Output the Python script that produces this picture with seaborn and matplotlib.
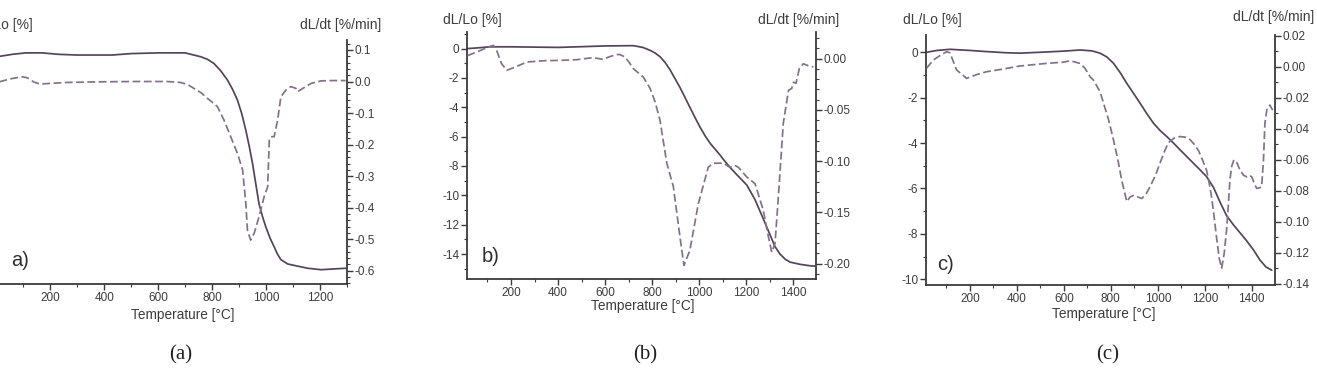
import numpy as np
import pandas as pd
import matplotlib
matplotlib.use("Agg")
import matplotlib.pyplot as plt
from matplotlib.ticker import MultipleLocator, FormatStrFormatter
import seaborn as sns

# ---------------- data ----------------
# panel a
a_T_len = [10, 60, 110, 170, 230, 300, 430, 500, 600, 700, 758, 783, 807, 832, 857, 876, 894, 910,
           925, 938, 950, 962, 974, 987, 999, 1015, 1030, 1042, 1055, 1080, 1104, 1154, 1204, 1250, 1295]
a_len = [-0.2, -0.05, 0.05, 0.05, -0.05, -0.1, -0.1, 0.0, 0.05, 0.05, -0.22, -0.4, -0.69, -1.2, -1.85,
         -2.5, -3.25, -4.2, -5.35, -6.5, -7.68, -9.1, -10.5, -11.4, -12.1, -12.9, -13.5, -14.0, -14.4,
         -14.7, -14.8, -15.0, -15.1, -15.05, -15.0]
a_T_rate = [12, 50, 95, 115, 140, 163, 200, 262, 386, 510, 634, 683, 710, 733, 760, 782, 800, 820, 844,
            869, 894, 913, 925, 931, 943, 956, 974, 993, 1006, 1012, 1018, 1030, 1043, 1055, 1074, 1092,
            1111, 1117, 1136, 1167, 1204, 1250, 1295]
a_rate = [-0.001, 0.008, 0.015, 0.012, -0.002, -0.008, -0.006, -0.003, -0.001, 0.0, 0.0, -0.003, -0.010,
          -0.022, -0.036, -0.053, -0.065, -0.080, -0.122, -0.175, -0.228, -0.280, -0.386, -0.471, -0.503,
          -0.481, -0.429, -0.365, -0.334, -0.186, -0.175, -0.175, -0.122, -0.048, -0.027, -0.016, -0.022,
          -0.032, -0.022, -0.006, 0.002, 0.003, 0.003]

# panel b
b_T_len = [15, 60, 110, 200, 400, 600, 720, 760, 791, 812, 833, 855, 876, 897, 918, 940, 960, 982, 1003,
           1025, 1046, 1067, 1088, 1110, 1131, 1160, 1202, 1237, 1272, 1301, 1322, 1343, 1365, 1386, 1428,
           1471, 1490]
b_len = [0.0, 0.05, 0.12, 0.12, 0.08, 0.18, 0.2, 0.08, -0.12, -0.3, -0.55, -0.95, -1.45, -2.05, -2.65,
         -3.35, -4.0, -4.7, -5.35, -5.95, -6.45, -6.85, -7.25, -7.7, -8.1, -8.6, -9.3, -10.3, -11.6,
         -12.7, -13.5, -14.0, -14.35, -14.55, -14.7, -14.8, -14.82]
b_T_rate = [15, 60, 100, 125, 139, 160, 182, 220, 267, 340, 408, 480, 549, 591, 620, 649, 663, 684, 700,
            720, 762, 791, 812, 833, 862, 890, 918, 935, 960, 996, 1038, 1059, 1102, 1130, 1150, 1166, 1202,
            1237, 1272, 1294, 1308, 1322, 1336, 1357, 1379, 1393, 1400, 1411, 1425, 1442, 1470, 1485]
b_rate = [0.003, 0.007, 0.011, 0.013, 0.008, -0.005, -0.0114, -0.008, -0.0033, -0.002, -0.0017, -0.001,
          0.001, -0.0007, 0.002, 0.004, 0.004, 0.0016, -0.003, -0.0098, -0.018, -0.029, -0.042, -0.060,
          -0.102, -0.125, -0.174, -0.2017, -0.187, -0.1415, -0.106, -0.102, -0.102, -0.106, -0.104, -0.106,
          -0.1155, -0.122, -0.148, -0.174, -0.189, -0.180, -0.135, -0.063, -0.031, -0.029, -0.023, -0.024,
          -0.0098, -0.005, -0.0075, -0.008]

# panel c
c_T_len = [15, 60, 115, 200, 271, 350, 413, 500, 600, 669, 720, 754, 782, 811, 840, 868, 896, 925, 953,
           982, 1010, 1039, 1067, 1095, 1124, 1152, 1180, 1208, 1237, 1265, 1293, 1322, 1350, 1378, 1407,
           1435, 1460, 1485]
c_len = [0.0, 0.08, 0.13, 0.08, 0.03, -0.02, -0.04, 0.0, 0.05, 0.1, 0.06, -0.04, -0.2, -0.48, -0.9,
         -1.37, -1.8, -2.25, -2.7, -3.13, -3.45, -3.72, -4.0, -4.3, -4.6, -4.89, -5.18, -5.48, -5.95,
         -6.6, -7.2, -7.6, -7.95, -8.3, -8.7, -9.15, -9.45, -9.6]
c_T_rate = [15, 44, 80, 101, 115, 143, 186, 230, 271, 340, 413, 527, 600, 626, 669, 690, 712, 726, 754,
            769, 790, 811, 830, 846, 868, 882, 896, 915, 932, 950, 967, 990, 1009, 1030, 1045, 1070, 1095,
            1120, 1137, 1155, 1173, 1190, 1208, 1220, 1229, 1240, 1250, 1262, 1272, 1283, 1293, 1300, 1307,
            1315, 1324, 1337, 1350, 1365, 1378, 1390, 1400, 1410, 1421, 1435, 1442, 1450, 1456, 1465,
            1477, 1489]
c_rate = [-0.001, 0.0043, 0.008, 0.0097, 0.009, -0.002, -0.0075, -0.005, -0.0032, -0.0015, 0.0005,
          0.0022, 0.003, 0.0039, 0.0022, -0.001, -0.0065, -0.0086, -0.016, -0.0236, -0.034, -0.047, -0.06,
          -0.073, -0.087, -0.084, -0.083, -0.084, -0.085, -0.082, -0.0774, -0.07, -0.0623, -0.054, -0.049,
          -0.046, -0.045, -0.0455, -0.047, -0.05, -0.054, -0.06, -0.067, -0.076, -0.084, -0.097, -0.11,
          -0.124, -0.130, -0.12, -0.105, -0.09, -0.073, -0.064, -0.060, -0.062, -0.0667, -0.070, -0.071,
          -0.070, -0.071, -0.075, -0.0785, -0.078, -0.0774, -0.06, -0.0365, -0.027, -0.0247, -0.028]

x_ticks = [200, 400, 600, 800, 1000, 1200, 1400]
x_label = "Temperature [°C]"
left_label = "dL/Lo [%]"
right_label = "dL/dt [%/min]"
panel_tags = ["a)", "b)", "c)"]
captions = ["(a)", "(b)", "(c)"]

# ---------------- style ----------------
sns.set_style("white")
plt.rcParams["font.family"] = ["Liberation Sans", "DejaVu Sans"]

W, H = 1317, 372
fig = plt.figure(figsize=(W / 100, H / 100), dpi=100)


def rect(l, r, t, b):
    return [l / W, 1 - b / H, (r - l) / W, (b - t) / H]


SOLID = "#55435d"
DASH = "#85708c"
SPINE = "#3a3a3a"
TXT = "#3c3c3c"

panels = [
    dict(rect=rect(-3.8, 347, 40, 284), xlim=(0, 1300), ylim=(-16.1, 0.95), y2lim=(-0.642, 0.1316),
         lmaj=2, lmin=1, rmaj=0.1, rmin=0.02, rfmt="%.1f", lfmt="%d", hide_left=True,
         T1=a_T_len, v1=a_len, T2=a_T_rate, v2=a_rate,
         llab=(33, 25, "right"), rlab=(300, 25), xlab=(182.5, 315), tag=(20, 260), cap=(181, 355)),
    dict(rect=rect(467, 816, 32, 279), xlim=(13, 1496), ylim=(-15.7, 1.13), y2lim=(-0.215, 0.026),
         lmaj=2, lmin=1, rmaj=0.05, rmin=0.01, rfmt="%.2f", lfmt="%d", hide_left=False,
         T1=b_T_len, v1=b_len, T2=b_T_rate, v2=b_rate,
         llab=(443, 20, "left"), rlab=(758, 20), xlab=(643, 306), tag=(491, 257), cap=(645, 355)),
    dict(rect=rect(926, 1275, 35, 285), xlim=(13, 1499), ylim=(-10.25, 0.76), y2lim=(-0.1408, 0.0205),
         lmaj=2, lmin=1, rmaj=0.02, rmin=0.01, rfmt="%.2f", lfmt="%d", hide_left=False,
         T1=c_T_len, v1=c_len, T2=c_T_rate, v2=c_rate,
         llab=(903, 20, "left"), rlab=(1233, 17), xlab=(1103.5, 314), tag=(946, 265), cap=(1108, 355)),
]

for i, p in enumerate(panels):
    ax = fig.add_axes(p["rect"])
    ax2 = ax.twinx()
    d1 = pd.DataFrame({"T": p["T1"], "v": p["v1"]})
    d2 = pd.DataFrame({"T": p["T2"], "v": p["v2"]})
    sns.lineplot(data=d1, x="T", y="v", ax=ax, color=SOLID, lw=1.25)
    sns.lineplot(data=d2, x="T", y="v", ax=ax2, color=DASH, lw=1.25, linestyle=(0, (4.5, 2)))
    ax.set_xlim(*p["xlim"])
    ax.set_ylim(*p["ylim"])
    ax2.set_ylim(*p["y2lim"])
    for a_ in (ax, ax2):
        a_.set_xlabel("")
        a_.set_ylabel("")
        a_.spines["top"].set_visible(False)
        for s in ("left", "right", "bottom"):
            a_.spines[s].set_color(SPINE)
            a_.spines[s].set_linewidth(1.3)
    ax.spines["right"].set_visible(False)
    ax2.spines["left"].set_visible(False)
    ax2.spines["bottom"].set_visible(False)
    ax.set_xticks(x_ticks if p["xlim"][1] > 1400 else x_ticks[:-1])
    ax.xaxis.set_minor_locator(MultipleLocator(100))
    ax.yaxis.set_major_locator(MultipleLocator(p["lmaj"]))
    ax.yaxis.set_minor_locator(MultipleLocator(p["lmin"]))
    ax.yaxis.set_major_formatter(FormatStrFormatter(p["lfmt"]))
    ax2.yaxis.set_major_locator(MultipleLocator(p["rmaj"]))
    ax2.yaxis.set_minor_locator(MultipleLocator(p["rmin"]))
    ax2.yaxis.set_major_formatter(FormatStrFormatter(p["rfmt"]))
    for a_ in (ax, ax2):
        a_.tick_params(which="major", direction="out", length=4, width=1.0, color=SPINE,
                       labelsize=8.5, labelcolor=TXT, pad=1.5)
        a_.tick_params(which="minor", direction="out", length=2, width=0.8, color=SPINE)
    ax.tick_params(axis="x", which="both", bottom=True)
    ax.tick_params(axis="y", which="both", left=True, labelleft=not p["hide_left"])
    ax2.tick_params(axis="y", which="both", right=True)

    lx, ly, lha = p["llab"]
    fig.text(lx / W, 1 - ly / H, left_label, ha=lha, va="center", fontsize=10, color=TXT)
    rx, ry = p["rlab"]
    fig.text(rx / W, 1 - ry / H, right_label, ha="left", va="center", fontsize=10, color=TXT)
    xx, xy = p["xlab"]
    fig.text(xx / W, 1 - xy / H, x_label, ha="center", va="center", fontsize=9.8, color=TXT)
    tx, ty = p["tag"]
    fig.text(tx / W, 1 - ty / H, panel_tags[i], ha="center", va="center", fontsize=14.5, color="#2e2e2e")
    cx, cy = p["cap"]
    fig.text(cx / W, 1 - cy / H, captions[i], ha="center", va="center", fontsize=15,
             family=["Liberation Serif", "DejaVu Serif"], color="#222222")

fig.savefig("out.png", dpi=100)
